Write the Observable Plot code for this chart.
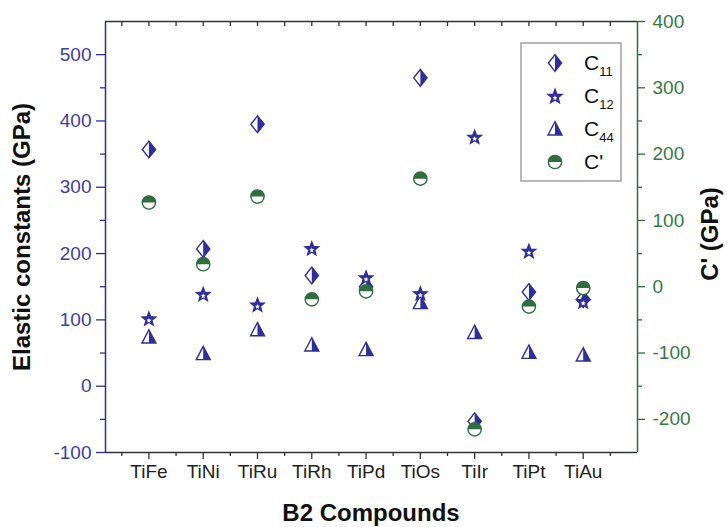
<!DOCTYPE html>
<html><head><meta charset="utf-8">
<script src="https://cdn.jsdelivr.net/npm/d3@7"></script>
<script src="https://cdn.jsdelivr.net/npm/@observablehq/plot@0.6"></script>
<style>
body{margin:0;background:#fff}
#chart{position:relative;width:727px;height:527px}
#chart svg{position:absolute;left:0;top:0}
</style>
</head><body><div id="chart"></div>
<script>
// ---- data ----
const compounds = ["TiFe","TiNi","TiRu","TiRh","TiPd","TiOs","TiIr","TiPt","TiAu"];
const c11    = [357, 207, 395, 167, 150, 465, -53, 142, 131];
const c12    = [102, 139, 123, 208, 164, 140, 376, 204, 128];
const c44    = [74, 49, 85, 62, 55, 126, 81, 51, 47];
const cPrime = [127, 34, 136, -19, -7, 163, -215, -30, -2];
const leftTicks  = [-100, 0, 100, 200, 300, 400, 500];
const leftMinor  = [-50, 50, 150, 250, 350, 450];
const rightTicks = [-200, -100, 0, 100, 200, 300, 400];
const rightMinor = [-150, -50, 50, 150, 250, 350];
const legendItems = [{name:"C", sub:"11"}, {name:"C", sub:"12"}, {name:"C", sub:"44"}, {name:"C'", sub:""}];
const offset = 150; // right-axis value + 150 = left-axis value

// ---- styling ----
const W = 727, H = 527, mL = 105, mR = 90, mT = 21, mB = 75;
const font = "'Liberation Sans', Arial, sans-serif";
const blue = "#2f2f9b", blueText = "#3d3da5", green = "#2c6e3d", greenText = "#367a45", dark = "#333";

const rows = compounds.map((name, i) => ({name, x: i + 1, c11: c11[i], c12: c12[i], c44: c44[i], cp: cPrime[i]}));

function sym(f) { return {draw(ctx, size) { f(ctx, Math.sqrt(size / Math.PI)); }}; }
const diamondOut  = sym((c, r) => { const h = r * 1.2, w = r * 0.95; c.moveTo(0, -h); c.lineTo(w, 0); c.lineTo(0, h); c.lineTo(-w, 0); c.closePath(); });
const diamondHalf = sym((c, r) => { const h = r * 1.2, w = r * 0.95; c.moveTo(0, -h); c.lineTo(w, 0); c.lineTo(0, h); c.closePath(); });
const triOut  = sym((c, r) => { const h = r * 1.05, b = r * 0.85, w = r; c.moveTo(0, -h); c.lineTo(w, b); c.lineTo(-w, b); c.closePath(); });
const triHalf = sym((c, r) => { const h = r * 1.05, b = r * 0.85, w = r; c.moveTo(0, -h); c.lineTo(w, b); c.lineTo(0, b); c.closePath(); });
const circOut  = sym((c, r) => { const rr = r * 0.95; c.moveTo(rr, 0); c.arc(0, 0, rr, 0, 2 * Math.PI); c.closePath(); });
const circHalf = sym((c, r) => { const rr = r * 0.95; c.moveTo(-rr, 0); c.arc(0, 0, rr, Math.PI, 2 * Math.PI); c.closePath(); });
function starPath(c, R, ir, dy) {
  for (let k = 0; k < 10; k++) {
    const a = -Math.PI / 2 + k * Math.PI / 5, rad = k % 2 ? ir : R;
    const px = rad * Math.cos(a), py = rad * Math.sin(a) + dy;
    k ? c.lineTo(px, py) : c.moveTo(px, py);
  }
  c.closePath();
}
const starOut = sym((c, r) => starPath(c, r * 1.05, r * 0.45, 0.1 * r));
const starIn  = sym((c, r) => starPath(c, r * 0.38, r * 0.17, 0.28 * r));

const yL = d => d;
function pair(key, out, half, color) {
  const y = key === "cp" ? (d => d.cp + offset) : key;
  return [
    Plot.dot(rows, {x: "x", y, r: 7, symbol: out, fill: "white", stroke: color, strokeWidth: 1.4}),
    Plot.dot(rows, {x: "x", y, r: 7, symbol: half, fill: color, stroke: "none"})
  ];
}

const plot = Plot.plot({
  width: W, height: H, marginLeft: mL, marginRight: mR, marginTop: mT, marginBottom: mB,
  x: {type: "linear", domain: [0.2, 10], label: null},
  y: {domain: [-100, 550], label: null},
  style: {fontFamily: font, background: "transparent", overflow: "visible"},
  marks: [
    Plot.ruleY([550], {stroke: dark, strokeWidth: 1.3}),
    Plot.ruleY([-100], {stroke: dark, strokeWidth: 1.3}),
    Plot.ruleX([0.2], {stroke: blue, strokeWidth: 1.5}),
    Plot.ruleX([10], {stroke: green, strokeWidth: 1.5}),
    Plot.axisY({ticks: leftTicks, tickSize: 9, tickPadding: 5, fontSize: 19, tickFormat: d => String(d), stroke: blue, fill: blueText, strokeWidth: 1.3, label: null}),
    Plot.axisY({ticks: leftMinor, tickSize: 5, tickFormat: () => "", stroke: blue, strokeWidth: 1.3, label: null}),
    Plot.axisY({anchor: "right", ticks: rightTicks.map(v => v + offset), tickFormat: d => String(d - offset), tickSize: 7, tickPadding: 8, fontSize: 19, stroke: green, fill: greenText, strokeWidth: 1.3, label: null}),
    Plot.axisY({anchor: "right", ticks: rightMinor.map(v => v + offset), tickFormat: () => "", tickSize: 4, stroke: green, strokeWidth: 1.3, label: null}),
    Plot.axisX({ticks: compounds.map((c, i) => i + 1), tickFormat: d => compounds[d - 1], tickSize: 7, tickPadding: 5, fontSize: 19, stroke: dark, fill: "#222", strokeWidth: 1.3, label: null}),
    Plot.axisX({ticks: compounds.map((c, i) => i + 0.5).concat([9.5]), tickSize: 4, tickFormat: () => "", stroke: dark, strokeWidth: 1.3, label: null}),
    Plot.axisX({anchor: "top", ticks: compounds.map((c, i) => i + 1).concat(compounds.map((c, i) => i + 0.5), [9.5]), tickSize: -4, tickFormat: () => "", stroke: dark, strokeWidth: 1.3, label: null}),
    ...pair("c11", diamondOut, diamondHalf, blue),
    ...pair("c44", triOut, triHalf, blue),
    Plot.dot(rows, {x: "x", y: "c12", r: 7, symbol: starOut, fill: blue, stroke: blue, strokeWidth: 1.2}),
    Plot.dot(rows, {x: "x", y: "c12", r: 7, symbol: starIn, fill: "white"}),
    ...pair("cp", circOut, circHalf, green)
  ]
});
const root = document.getElementById("chart");
root.appendChild(plot);

// ---- titles and legend overlay ----
const svg = d3.select(root).append("svg").attr("width", W).attr("height", H).style("font-family", font).style("pointer-events", "none");
svg.append("text").attr("transform", "translate(30,237) rotate(-90)").attr("text-anchor", "middle")
  .attr("font-size", 24).attr("font-weight", "bold").attr("fill", "#111").text("Elastic constants (GPa)");
svg.append("text").attr("transform", "translate(718,234) rotate(-90)").attr("text-anchor", "middle")
  .attr("font-size", 24).attr("font-weight", "bold").attr("fill", "#111").text("C' (GPa)");
svg.append("text").attr("x", 371).attr("y", 521).attr("text-anchor", "middle")
  .attr("font-size", 24).attr("font-weight", "bold").attr("fill", "#111").text("B2 Compounds");

svg.append("rect").attr("x", 521).attr("y", 43).attr("width", 100).attr("height", 138)
  .attr("fill", "white").attr("stroke", "#a0a0a0").attr("stroke-width", 1.5);
const size = Math.PI * 49;
const path = t => d3.symbol(t, size)();
const legendMarks = [
  [{t: diamondOut, f: "white", s: blue}, {t: diamondHalf, f: blue, s: "none"}],
  [{t: starOut, f: blue, s: blue}, {t: starIn, f: "white", s: "none"}],
  [{t: triOut, f: "white", s: blue}, {t: triHalf, f: blue, s: "none"}],
  [{t: circOut, f: "white", s: green}, {t: circHalf, f: green, s: "none"}]
];
legendItems.forEach((it, i) => {
  const cy = 63 + i * 33;
  const g = svg.append("g").attr("transform", `translate(555,${cy})`);
  legendMarks[i].forEach(m => g.append("path").attr("d", path(m.t)).attr("fill", m.f).attr("stroke", m.s).attr("stroke-width", 1.4));
  const t = svg.append("text").attr("x", 584).attr("y", cy + 7).attr("font-size", 21).attr("fill", "#111").text(it.name);
  if (it.sub) t.append("tspan").attr("font-size", 13).attr("dy", 6).text(it.sub);
});
</script>
</body></html>
